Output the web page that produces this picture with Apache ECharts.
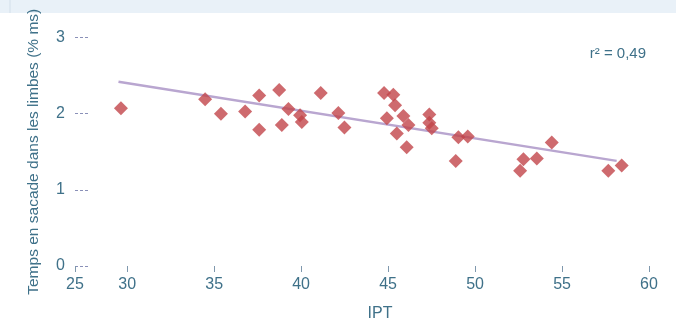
<!DOCTYPE html>
<html>
<head>
<meta charset="utf-8">
<script src="https://cdn.jsdelivr.net/npm/echarts@6/dist/echarts.min.js"></script>
<style>html,body{margin:0;padding:0;background:#fff}#c{width:676px;height:327px}</style>
</head>
<body>
<div id="c"></div>
<script>
const ipt = [29.64,34.48,35.39,36.78,37.59,37.59,38.74,38.89,39.27,39.94,40.04,41.13,42.14,42.49,44.77,45.30,45.40,44.93,45.88,46.17,45.50,46.07,47.37,47.37,47.51,49.04,49.58,48.89,54.41,52.78,53.55,52.59,57.66,58.43];
const temps = [2.07,2.19,2.00,2.03,2.24,1.79,2.31,1.85,2.06,1.98,1.89,2.27,2.01,1.82,2.27,2.25,2.11,1.94,1.97,1.85,1.74,1.56,1.99,1.88,1.81,1.69,1.70,1.38,1.62,1.40,1.41,1.25,1.25,1.32];
const trendX = [29.5, 58.14];
const trendY = [2.42, 1.38];
const xMin = 27, xMax = 60;
const xTickValues = [27,30,35,40,45,50,55,60];
const xTickLabels = ['25','30','35','40','45','50','55','60'];
const yTickLabels = ['0','1','2','3'];
const r2Label = 'r\u00b2 = 0,49';

const font = "'Liberation Sans',sans-serif";
const txt = '#3f7189';
const chart = echarts.init(document.getElementById('c'), null, {renderer:'canvas'});
chart.setOption({
  animation:false,
  grid:{left:75, right:27, top:37.5, bottom:57},
  graphic:[
    {type:'rect', shape:{x:0,y:0,width:676,height:13}, style:{fill:'#e9f1f8'}, z:-1},
    {type:'line', shape:{x1:10,y1:0,x2:10,y2:13}, style:{stroke:'#d3dfea',lineWidth:1}, z:-1}
  ],
  title:{text:r2Label, right:25, top:41, textStyle:{fontFamily:font, fontSize:15, fontWeight:'normal', color:txt}},
  xAxis:[{
    type:'value', min:xMin, max:xMax,
    name:'IPT', nameLocation:'middle', nameGap:40,
    nameTextStyle:{fontFamily:font, fontSize:16, color:txt, padding:[0,0,0,36]},
    axisLine:{show:false, onZero:false},
    splitLine:{show:false},
    axisTick:{show:false},
    axisLabel:{customValues:xTickValues, margin:11, fontFamily:font, fontSize:16, color:txt,
      formatter:v=>xTickLabels[xTickValues.indexOf(v)]}
  },{
    // tick-only helper axis: distance from 60, so ticks land on 60,55,...,30
    type:'value', min:0, max:xMax - xMin, interval:5, inverse:true, position:'bottom',
    axisLine:{show:true, onZero:false, lineStyle:{color:'rgba(255,255,255,0)'}},
    splitLine:{show:false},
    axisLabel:{show:false},
    axisTick:{show:true, length:6, lineStyle:{color:'#7f98ad'}}
  }],
  yAxis:{
    type:'value', min:0, max:3, interval:1, position:'left',
    name:'Temps en sacade dans les limbes (% ms)', nameLocation:'middle', nameGap:33,
    nameTextStyle:{fontFamily:font, fontSize:15.5, color:txt},
    axisLine:{show:false, onZero:false},
    splitLine:{show:false},
    axisTick:{show:true, inside:true, length:15, lineStyle:{color:'#8a90b8', type:[3,2], width:1}},
    axisLabel:{margin:10, fontFamily:font, fontSize:16, color:txt, formatter:v=>yTickLabels[v]}
  },
  series:[
    {type:'line', data:trendX.map((x,i)=>[x,trendY[i]]), symbol:'none',
      lineStyle:{color:'#b9a6d0', width:2.5}, z:1},
    {type:'scatter', data:ipt.map((x,i)=>[x,temps[i]]), symbol:'diamond', symbolSize:14,
      itemStyle:{color:'#c2454a'}, z:2}
  ]
});
</script>
</body>
</html>
